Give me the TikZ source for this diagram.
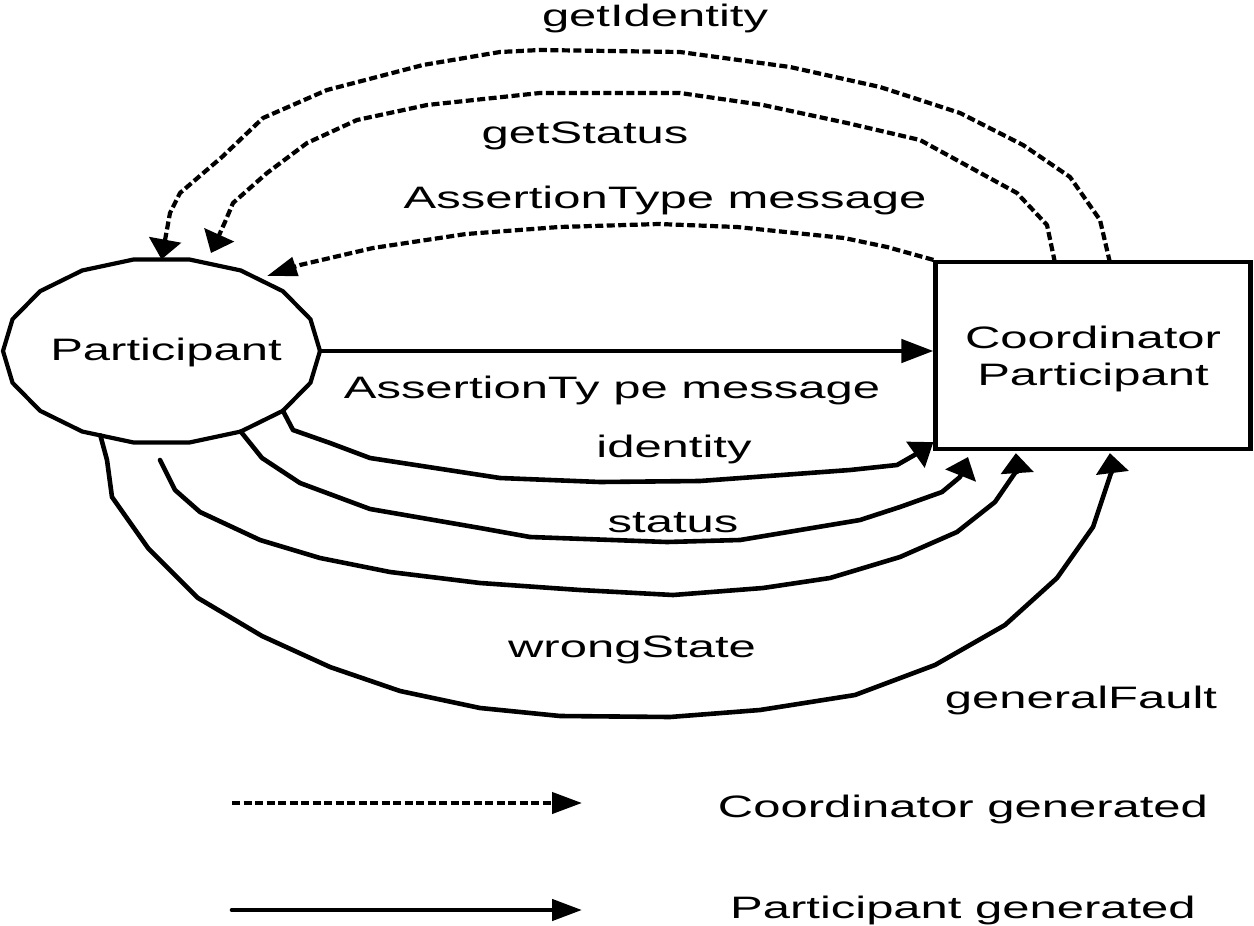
\documentclass[tikz,border=0pt]{standalone}
\usepackage{fontspec}
\setmainfont{Liberation Sans}
\usepackage{graphicx}
\usetikzlibrary{arrows.meta,calc}
% wide lettering used throughout the figure
\newcommand\stretched[1]{\scalebox{1.58}[1]{#1}}

\begin{document}
\begin{tikzpicture}[x=1pt,y=-1pt,
  outline/.style={line width=4.2pt, line join=miter},
  msg/.style={line width=4.6pt, line join=round, line cap=round},
  cmsg/.style={line width=4.2pt, line join=round, dash pattern=on 8pt off 3.5pt},
  lbl/.style={inner sep=0pt, anchor=base, font=\fontsize{31}{35}\selectfont},
  tipV/.style={-{Triangle[length=20pt,width=32pt]}},
  tipD/.style={-{Triangle[length=22pt,width=31pt]}},
  tipS/.style={-{Triangle[length=30pt,width=19pt]}},
  tipH/.style={-{Triangle[length=32pt,width=23pt]}},
  tipL/.style={-{Triangle[length=30pt,width=21pt]}}]
\useasboundingbox (0,0) rectangle (1254,926);

% Participant: an 18-sided polygon
\draw[outline] plot[samples=19, domain=0:360] ({161.5+158.5*cos(\x)}, {351+93*sin(\x)}) -- cycle;
\foreach \i in {0,...,17}
  \coordinate (pv\i) at ({161.5+158.5*cos(20*\i)}, {351+93*sin(20*\i)});
\node[lbl] (part) at (166,360) {\stretched{Participant}};

% Coordinator box (the strut lowers the two text lines a little)
\node[outline, draw, minimum width=315pt, minimum height=187pt, align=center,
      inner sep=0pt, font=\fontsize{31}{37}\selectfont] (coord) at (1093,355.5)
  {\rule{0pt}{29pt}\stretched{Coordinator}\\\stretched{Participant}};

% free ends of connectors
\coordinate (idTip) at ($(pv13)!0.5!(pv14)$);
\coordinate (stTip) at (211,253);
\coordinate (atTip) at (267,276);
\coordinate (statusEnd) at (968,457);
\coordinate (wsStart) at (160,460);
\coordinate (gfStart) at ($(pv5)!0.65!(pv6)$);

% coordinator generated messages
\draw[cmsg, tipV] ([xshift=176.5pt,yshift=-2.5pt]coord.north west) -- (1100,220) -- (1070,177) -- (1023,145)
  -- (960,113) -- (880,87) -- (790,67) -- (680,52) -- (540,50) -- (500,52) -- (423,65)
  -- (327,90) -- (263,118) -- (222,157) -- (180,193) -- (170,213) -- (idTip);
\draw[cmsg, tipV] ([xshift=121.5pt,yshift=-2.5pt]coord.north west) -- (1047,225) -- (1017,193) -- (920,140)
  -- (847,123) -- (763,105) -- (680,93) -- (540,93) -- (427,105) -- (357,120) -- (307,143)
  -- (267,173) -- (233,203) -- (225,222) -- (stTip);
\draw[cmsg, tipS] (coord.north west) -- (887,247) -- (844,238) -- (737,227) -- (659,224)
  -- (559,227) -- (466,234) -- (373,248) -- (300,265) -- (atTip);

% participant generated messages
\draw[msg, tipH] (pv0) -- (pv0 -| coord.west);
\draw[msg, tipD] (pv2) -- (293,430) -- (330,443) -- (370,458) -- (500,478) -- (600,482)
  -- (700,481) -- (850,470) -- (897,465) -- (918,453) -- ([yshift=9pt]coord.south west);
\draw[msg, tipV] (pv3) -- (262,458) -- (300,483) -- (370,509) -- (480,528) -- (530,537)
  -- (667,542) -- (740,540) -- (860,520) -- (900,507) -- (942,492) -- (960,477) -- (statusEnd);
\draw[msg, tipV] (wsStart) -- (175,490) -- (200,512) -- (260,540) -- (320,558) -- (390,572)
  -- (480,583) -- (580,590) -- (673,595) -- (763,588) -- (830,578) -- (900,557) -- (957,532)
  -- (995,502) -- (1017,470) -- ([xshift=82.5pt,yshift=-2pt]coord.south west);
\draw[msg, tipV] (gfStart) -- (107,460) -- (112,497) -- (148,548) -- (198,598) -- (262,636)
  -- (330,667) -- (400,691) -- (480,708) -- (560,716) -- (670,717) -- (760,710) -- (855,695)
  -- (935,665) -- (1005,625) -- (1057,578) -- (1093,527) -- (1112,470)
  -- ([xshift=176.5pt,yshift=-2pt]coord.south west);

% message labels
\node[lbl] (lGetId) at (655,26) {\stretched{getIdentity}};
\node[lbl] (lGetSt) at (585,143) {\stretched{getStatus}};
\node[lbl] (lAtUp) at (665,208) {\stretched{AssertionType message}};
\node[lbl] (lAtLo) at (612,398) {\stretched{AssertionTy pe message}};
\node[lbl] (lId) at (674,457) {\stretched{identity}};
\node[lbl] (lSt) at (673,532) {\stretched{status}};
\node[lbl] (lWs) at (632,657) {\stretched{wrongState}};
\node[lbl] (lGf) at (1081,708) {\stretched{generalFault}};

% legend
\coordinate (lgA1) at (232,803);
\coordinate (lgA2) at (582,803);
\coordinate (lgB1) at (232,910);
\coordinate (lgB2) at (582,910);
\draw[cmsg, tipL] (lgA1) -- (lgA2);
\draw[msg, tipL] (lgB1) -- (lgB2);
\node[lbl] (lgTxtA) at (963,817) {\stretched{Coordinator generated}};
\node[lbl] (lgTxtB) at (963,918) {\stretched{Participant generated}};
\end{tikzpicture}
\end{document}
